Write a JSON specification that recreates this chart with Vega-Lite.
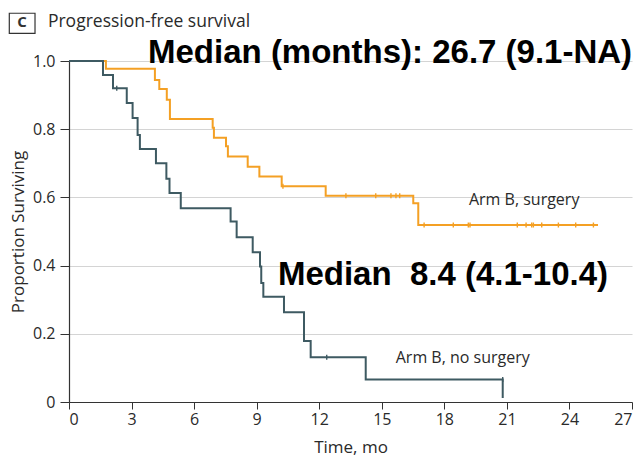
{
  "$schema": "https://vega.github.io/schema/vega-lite/v6.json",
  "width": 563,
  "height": 341,
  "autosize": {"type": "none"},
  "padding": {"left": 69, "top": 61, "right": 10, "bottom": 60},
  "background": "white",
  "config": {
    "view": {"stroke": null},
    "font": "Open Sans",
    "axis": {
      "domainColor": "#333333",
      "tickColor": "#333333",
      "labelColor": "#2a2a2a",
      "titleColor": "#2a2a2a",
      "labelFont": "Open Sans",
      "titleFont": "Open Sans",
      "labelFontSize": 16,
      "titleFontSize": 17,
      "titleFontWeight": "normal",
      "domainWidth": 1.2,
      "tickWidth": 1
    }
  },
  "datasets": {
    "curves": [
      {"series": "surgery", "i": 0, "t": 0, "s": 1.0},
      {"series": "surgery", "i": 1, "t": 1.77, "s": 0.977},
      {"series": "surgery", "i": 2, "t": 4.12, "s": 0.944},
      {"series": "surgery", "i": 3, "t": 4.33, "s": 0.918},
      {"series": "surgery", "i": 4, "t": 4.69, "s": 0.886},
      {"series": "surgery", "i": 5, "t": 4.84, "s": 0.83},
      {"series": "surgery", "i": 6, "t": 6.89, "s": 0.804},
      {"series": "surgery", "i": 7, "t": 6.95, "s": 0.775},
      {"series": "surgery", "i": 8, "t": 7.53, "s": 0.75},
      {"series": "surgery", "i": 9, "t": 7.62, "s": 0.72},
      {"series": "surgery", "i": 10, "t": 8.57, "s": 0.69},
      {"series": "surgery", "i": 11, "t": 9.13, "s": 0.661},
      {"series": "surgery", "i": 12, "t": 10.2, "s": 0.633},
      {"series": "surgery", "i": 13, "t": 12.31, "s": 0.605},
      {"series": "surgery", "i": 14, "t": 16.51, "s": 0.583},
      {"series": "surgery", "i": 15, "t": 16.75, "s": 0.519},
      {"series": "surgery", "i": 16, "t": 25.37, "s": 0.519},
      {"series": "no surgery", "i": 0, "t": 0, "s": 1.0},
      {"series": "no surgery", "i": 1, "t": 1.63, "s": 0.959},
      {"series": "no surgery", "i": 2, "t": 2.11, "s": 0.92},
      {"series": "no surgery", "i": 3, "t": 2.77, "s": 0.877},
      {"series": "no surgery", "i": 4, "t": 3.05, "s": 0.833},
      {"series": "no surgery", "i": 5, "t": 3.29, "s": 0.783},
      {"series": "no surgery", "i": 6, "t": 3.4, "s": 0.742},
      {"series": "no surgery", "i": 7, "t": 4.17, "s": 0.7},
      {"series": "no surgery", "i": 8, "t": 4.67, "s": 0.655},
      {"series": "no surgery", "i": 9, "t": 4.82, "s": 0.613},
      {"series": "no surgery", "i": 10, "t": 5.36, "s": 0.568},
      {"series": "no surgery", "i": 11, "t": 7.75, "s": 0.529},
      {"series": "no surgery", "i": 12, "t": 8.04, "s": 0.483},
      {"series": "no surgery", "i": 13, "t": 8.81, "s": 0.439},
      {"series": "no surgery", "i": 14, "t": 9.16, "s": 0.397},
      {"series": "no surgery", "i": 15, "t": 9.22, "s": 0.349},
      {"series": "no surgery", "i": 16, "t": 9.32, "s": 0.309},
      {"series": "no surgery", "i": 17, "t": 10.31, "s": 0.263},
      {"series": "no surgery", "i": 18, "t": 11.27, "s": 0.179},
      {"series": "no surgery", "i": 19, "t": 11.59, "s": 0.131},
      {"series": "no surgery", "i": 20, "t": 14.23, "s": 0.066},
      {"series": "no surgery", "i": 21, "t": 20.8, "s": 0.066},
      {"series": "no surgery", "i": 22, "t": 20.8, "s": 0.012}
    ],
    "censors": [
      {"series": "surgery", "t": 10.26, "s": 0.633},
      {"series": "surgery", "t": 13.28, "s": 0.605},
      {"series": "surgery", "t": 14.71, "s": 0.605},
      {"series": "surgery", "t": 15.44, "s": 0.605},
      {"series": "surgery", "t": 15.68, "s": 0.605},
      {"series": "surgery", "t": 15.86, "s": 0.605},
      {"series": "surgery", "t": 17.03, "s": 0.519},
      {"series": "surgery", "t": 18.43, "s": 0.519},
      {"series": "surgery", "t": 19.15, "s": 0.519},
      {"series": "surgery", "t": 19.23, "s": 0.519},
      {"series": "surgery", "t": 21.5, "s": 0.519},
      {"series": "surgery", "t": 21.92, "s": 0.519},
      {"series": "surgery", "t": 22.19, "s": 0.519},
      {"series": "surgery", "t": 22.27, "s": 0.519},
      {"series": "surgery", "t": 22.67, "s": 0.519},
      {"series": "surgery", "t": 23.47, "s": 0.519},
      {"series": "surgery", "t": 24.3, "s": 0.519},
      {"series": "surgery", "t": 25.15, "s": 0.519},
      {"series": "no surgery", "t": 2.29, "s": 0.92},
      {"series": "no surgery", "t": 12.36, "s": 0.131},
      {"series": "no surgery", "t": 20.8, "s": 0.066}
    ],
    "medians": [
      {"label": "Median (months): 26.7 (9.1-NA)", "t": 3.79, "s": 0.993},
      {"label": "Median\u00a0 8.4 (4.1-10.4)", "t": 10.02, "s": 0.343}
    ],
    "serieslabels": [
      {"label": "Arm B, surgery", "t": 19.18, "s": 0.578},
      {"label": "Arm B, no surgery", "t": 15.67, "s": 0.1135}
    ],
    "heading": [
      {"label": "Progression-free survival", "t": -1.01, "s": 1.1006}
    ],
    "panel": [
      {"label": "C", "t": -2.25, "s": 1.1006, "t1": -2.863, "t2": -1.63, "s1": 1.081, "s2": 1.14}
    ]
  },
  "layer": [
    {
      "data": {"name": "curves"},
      "mark": {"type": "line", "interpolate": "step-after", "strokeWidth": 2},
      "encoding": {
        "x": {
          "field": "t", "type": "quantitative",
          "scale": {"domain": [0, 27], "nice": false, "zero": false},
          "axis": {"values": [0, 3, 6, 9, 12, 15, 18, 21, 24, 27], "grid": false, "title": "Time, mo", "tickSize": 7, "labelFontSize": 16, "labelPadding": 2, "titlePadding": 12}
        },
        "y": {
          "field": "s", "type": "quantitative",
          "scale": {"domain": [0, 1], "nice": false},
          "axis": {"values": [0, 0.2, 0.4, 0.6, 0.8, 1.0], "grid": true, "gridColor": "#d4d4d4", "gridWidth": 1.2,
                   "labelExpr": "datum.value == 0 ? '0' : format(datum.value, '.1f')",
                   "tickSize": 9, "labelFontSize": 16,
                   "title": "Proportion Surviving", "labelPadding": 5, "titlePadding": 5}
        },
        "color": {"field": "series", "type": "nominal", "scale": {"domain": ["surgery", "no surgery"], "range": ["#f4a024", "#3e5a62"]}, "legend": null},
        "order": {"field": "i", "type": "quantitative"}
      }
    },
    {
      "data": {"name": "censors"},
      "mark": {"type": "point", "shape": "M0,-1V1", "size": 25, "filled": false, "strokeWidth": 1.4, "opacity": 1},
      "encoding": {
        "x": {"field": "t", "type": "quantitative"},
        "y": {"field": "s", "type": "quantitative"},
        "color": {"field": "series", "type": "nominal", "legend": null}
      }
    },
    {
      "data": {"name": "medians"},
      "mark": {"type": "text", "align": "left", "baseline": "alphabetic", "font": "Liberation Sans", "fontWeight": "bold", "fontSize": 33, "color": "#000000"},
      "encoding": {
        "x": {"field": "t", "type": "quantitative"},
        "y": {"field": "s", "type": "quantitative"},
        "text": {"field": "label"}
      }
    },
    {
      "data": {"name": "serieslabels"},
      "mark": {"type": "text", "align": "left", "baseline": "alphabetic", "font": "Open Sans", "fontSize": 16, "color": "#2a2a2a"},
      "encoding": {
        "x": {"field": "t", "type": "quantitative"},
        "y": {"field": "s", "type": "quantitative"},
        "text": {"field": "label"}
      }
    },
    {
      "data": {"name": "heading"},
      "mark": {"type": "text", "align": "left", "baseline": "alphabetic", "font": "Open Sans", "fontSize": 17.5, "color": "#2a2a2a"},
      "encoding": {
        "x": {"field": "t", "type": "quantitative"},
        "y": {"field": "s", "type": "quantitative"},
        "text": {"field": "label"}
      }
    },
    {
      "data": {"name": "panel"},
      "mark": {"type": "rect", "fill": null, "fillOpacity": 0, "stroke": "#333333", "strokeWidth": 1.2},
      "encoding": {
        "x": {"field": "t1", "type": "quantitative"},
        "x2": {"field": "t2"},
        "y": {"field": "s1", "type": "quantitative"},
        "y2": {"field": "s2"}
      }
    },
    {
      "data": {"name": "panel"},
      "mark": {"type": "text", "align": "center", "baseline": "alphabetic", "font": "Open Sans", "fontWeight": "bold", "fontSize": 15, "color": "#333333"},
      "encoding": {
        "x": {"field": "t", "type": "quantitative"},
        "y": {"field": "s", "type": "quantitative"},
        "text": {"field": "label"}
      }
    }
  ]
}
